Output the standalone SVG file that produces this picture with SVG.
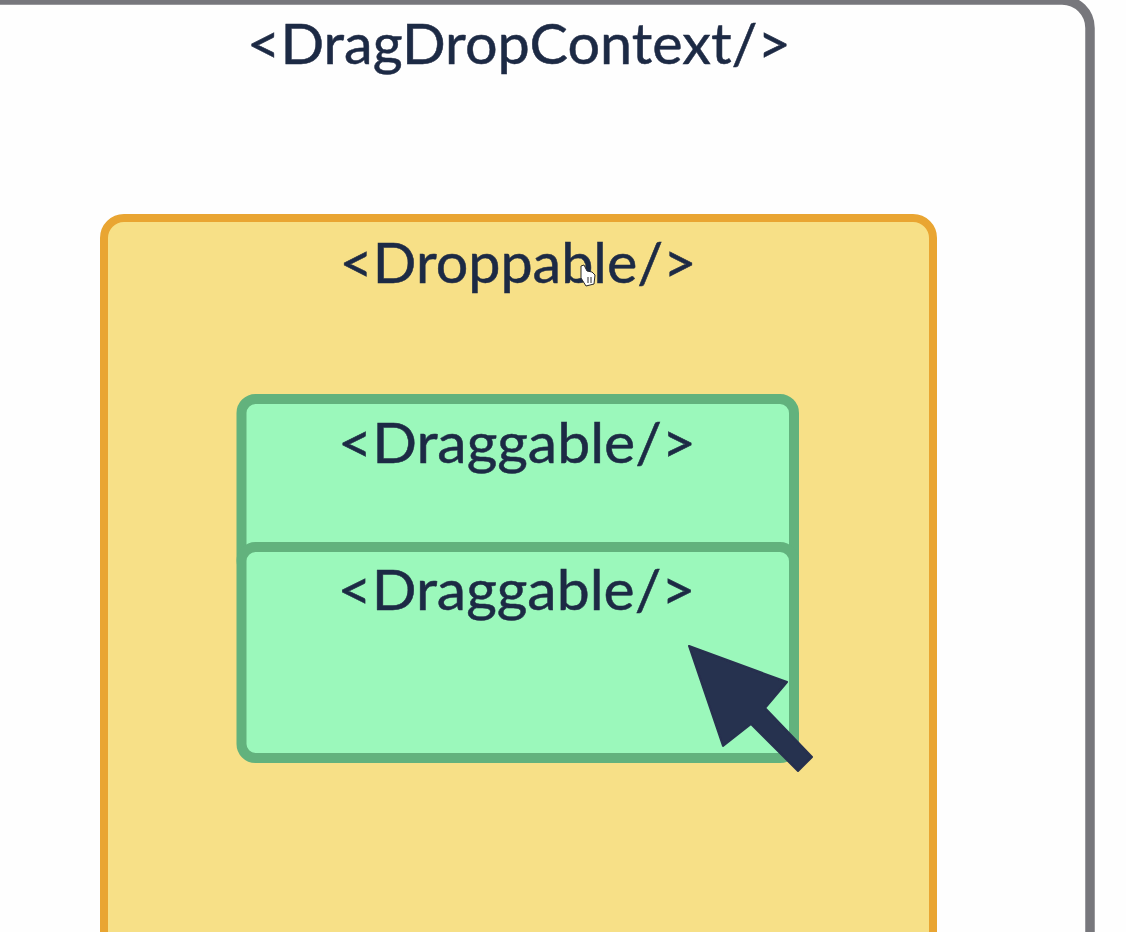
<svg xmlns="http://www.w3.org/2000/svg" width="1126" height="932" viewBox="0 0 1126 932">
<style>
text{font-family:"Lato","Noto Sans",sans-serif;fill:#1f2a44;text-anchor:middle;font-size:56px;stroke:#1f2a44;stroke-width:.5}
.drag{fill:#9bf8bb;stroke:#62b27d;stroke-width:10}
</style>
<defs><filter id="soft" x="-5%" y="-5%" width="110%" height="110%"><feGaussianBlur stdDeviation="0.7"/></filter></defs>
<rect width="1126" height="932" fill="#fefefe"/>
<g filter="url(#soft)">
<g id="context">
<rect x="-40" y="0" width="1130" height="1000" rx="28" fill="#fefefe" stroke="#77777c" stroke-width="9.500"/>
<text x="519" y="64" textLength="544" lengthAdjust="spacingAndGlyphs">&lt;DragDropContext/&gt;</text>
</g>
<g id="droppable">
<rect x="104" y="218" width="829" height="780" rx="20" fill="#f7e087" stroke="#e9a531" stroke-width="8"/>
<text x="518" y="283" textLength="357" lengthAdjust="spacingAndGlyphs">&lt;Droppable/&gt;</text>
</g>
<g id="draggable-1">
<rect x="241.500" y="399" width="552.500" height="175" rx="14" class="drag"/>
<text x="517" y="463" textLength="358" lengthAdjust="spacingAndGlyphs">&lt;Draggable/&gt;</text>
</g>
<g id="draggable-2">
<rect x="241.500" y="547" width="552.500" height="211" rx="14" class="drag"/>
<text x="516.500" y="610" textLength="358" lengthAdjust="spacingAndGlyphs">&lt;Draggable/&gt;</text>
</g>
<g id="connectors"/>
<path id="cursor" d="M689 646L787 682L765 708L812 757L798 771L751 724L723 746Z" fill="#28304f" stroke="#28304f" stroke-width="2" stroke-linejoin="round"/>
</g>
<g id="hand">
<path d="M581 266L584 265L587 271L592 272L595 275L594 284L586 286L581 278Z" fill="#fff" stroke="#2a2a2a" stroke-width="1"/>
<path d="M588 277V283M591 277V283" stroke="#2a2a2a" stroke-width="1" fill="none"/>
</g>
</svg>
